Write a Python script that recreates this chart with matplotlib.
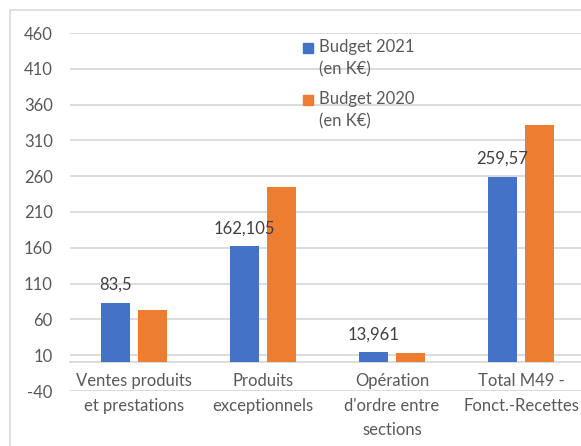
import numpy as np
import matplotlib
matplotlib.use("Agg")
import matplotlib.pyplot as plt
from matplotlib.patches import Rectangle, Patch
from matplotlib.legend_handler import HandlerPatch

plt.rcParams["font.family"] = ["Lato", "DejaVu Sans"]

# données
categories = ["Ventes produits\net prestations", "Produits\nexceptionnels",
              "Opération\nd'ordre entre\nsections", "Total M49 -\nFonct.-Recettes"]
budget_2021 = [83.5, 162.105, 13.961, 259.57]
budget_2020 = [73, 245, 13, 332]
labels_2021 = ["83,5", "162,105", "13,961", "259,57"]
yticks = [-40, 10, 60, 110, 160, 210, 260, 310, 360, 410, 460]

blue = "#4472C4"
orange = "#ED7D31"
grey_txt = "#595959"

fig = plt.figure(figsize=(5.81, 4.46), dpi=100)
ax = fig.add_axes([69.5 / 581, 1 - 391 / 446, 516 / 581, 358 / 446])

# cadre du graphique (coupé à droite et en bas)
fig.patches.append(Rectangle((10 / 581, -0.1), 1.2, 1 - 10 / 446 + 0.1,
                             transform=fig.transFigure, fill=False,
                             edgecolor="#d9d9d9", lw=1.2, zorder=0))

x = np.arange(len(categories))
w = 0.225
off = 0.145
b1 = ax.bar(x - off, budget_2021, w, color=blue, zorder=3)
ax.bar(x + off, budget_2020, w, color=orange, zorder=3)

for rect, lab in zip(b1, labels_2021):
    ax.annotate(lab, (rect.get_x() + rect.get_width() / 2, rect.get_height()),
                xytext=(0, 7), textcoords="offset points", ha="center",
                va="bottom", fontsize=12, color="#404040")

ax.set_xlim(-0.5, 3.5)
ax.set_ylim(-40, 460)
ax.set_yticks(yticks)
ax.set_yticklabels([str(v) for v in yticks])
ax.grid(axis="y", color="#d9d9d9", lw=1.3, zorder=0)
ax.set_axisbelow(True)

for s in ["left", "right", "top"]:
    ax.spines[s].set_visible(False)
ax.spines["bottom"].set_position(("data", 0))
ax.spines["bottom"].set_color("#d9d9d9")
ax.spines["bottom"].set_linewidth(1.3)

ax.set_xticks(x)
ax.set_xticklabels(categories, fontsize=12, color=grey_txt, linespacing=1.65)
ax.tick_params(axis="x", length=0, pad=8)
ax.tick_params(axis="y", length=0, pad=12, labelsize=12, labelcolor=grey_txt)


# carré de légende aligné sur la première ligne du libellé
def top_square(legend, orig_handle, xdescent, ydescent, width, height, fontsize):
    return Rectangle((-xdescent, -ydescent + 8), width, height)


handles = [Patch(color=blue), Patch(color=orange)]
leg = ax.legend(handles, ["Budget 2021\n(en K€)", "Budget 2020\n(en K€)"],
                loc="upper left", bbox_to_anchor=(288 / 581, 1 - 24 / 446),
                bbox_transform=fig.transFigure, frameon=False, fontsize=12,
                handlelength=0.6, handleheight=0.6, handletextpad=0.35,
                labelspacing=0.8, labelcolor=grey_txt,
                handler_map={Patch: HandlerPatch(patch_func=top_square)})
for t in leg.get_texts():
    t.set_linespacing(1.5)

fig.savefig("out.png", dpi=100)
